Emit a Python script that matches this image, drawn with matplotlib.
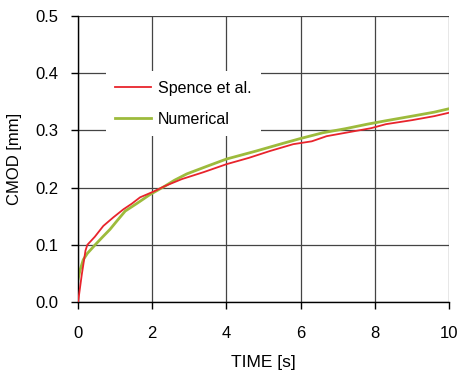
import matplotlib.pyplot as plt

plt.rcParams['font.family'] = ['Liberation Sans', 'DejaVu Sans']

# Spence et al. (analytical)
spence_t = [0.0, 0.1, 0.2, 0.25, 0.45, 0.68, 0.95, 1.22, 1.45, 1.67, 2.03, 2.35,
            2.8, 3.38, 4.0, 4.6, 5.17, 5.8, 6.3, 6.7, 7.3, 7.9, 8.3, 9.0, 9.6, 10.0]
spence_cmod = [0.0, 0.048, 0.09, 0.1, 0.114, 0.133, 0.148, 0.162, 0.172, 0.183, 0.193, 0.203,
               0.215, 0.227, 0.241, 0.252, 0.264, 0.276, 0.281, 0.29, 0.297, 0.304, 0.311,
               0.318, 0.325, 0.331]

# Numerical
num_t = [0.0, 0.05, 0.14, 0.25, 0.46, 0.65, 0.86, 1.05, 1.27, 1.6, 1.94, 2.35,
         2.6, 2.93, 3.5, 4.0, 4.8, 5.5, 6.0, 6.6, 7.2, 7.8, 8.3, 9.0, 9.6, 10.0]
num_cmod = [0.04, 0.055, 0.074, 0.085, 0.1, 0.113, 0.127, 0.142, 0.159, 0.173, 0.188, 0.203,
            0.213, 0.224, 0.238, 0.25, 0.264, 0.277, 0.286, 0.296, 0.303, 0.311, 0.317,
            0.325, 0.332, 0.338]

fig = plt.figure(figsize=(4.62, 3.74), dpi=100)
ax = fig.add_axes([0.169, 0.1925, 0.803, 0.7645])

ax.plot(spence_t, spence_cmod, color='#e8242c', lw=1.3, label='Spence et al.', zorder=3)
ax.plot(num_t, num_cmod, color='#9dbb3c', lw=2.0, label='Numerical', zorder=2)

ax.set_xlim(0, 10)
ax.set_ylim(0, 0.5)
ax.set_xticks([0, 2, 4, 6, 8, 10])
ax.set_yticks([0.0, 0.1, 0.2, 0.3, 0.4, 0.5])
ax.set_yticklabels(['0.0', '0.1', '0.2', '0.3', '0.4', '0.5'])
ax.grid(True, color='#444444', lw=0.9)
ax.set_axisbelow(True)
for s in ['top', 'right']:
    ax.spines[s].set_visible(False)
for s in ['left', 'bottom']:
    ax.spines[s].set_color('black')
    ax.spines[s].set_linewidth(1.0)
ax.tick_params(direction='out', length=5, width=1.0, labelsize=12, colors='black')
ax.tick_params(axis='y', pad=9)
ax.tick_params(axis='x', pad=12)

ax.set_xlabel('TIME [s]', fontsize=12.5, labelpad=10)
ax.set_ylabel('CMOD [mm]', fontsize=12, labelpad=10)

leg = ax.legend(loc='upper left', bbox_to_anchor=(0.053, 0.835), frameon=True,
                fancybox=False, edgecolor='none', facecolor='white', framealpha=1,
                fontsize=11.5, handlelength=2.25, handletextpad=0.4, labelspacing=1.0,
                borderpad=0.6)

fig.savefig('out.png', dpi=100)
